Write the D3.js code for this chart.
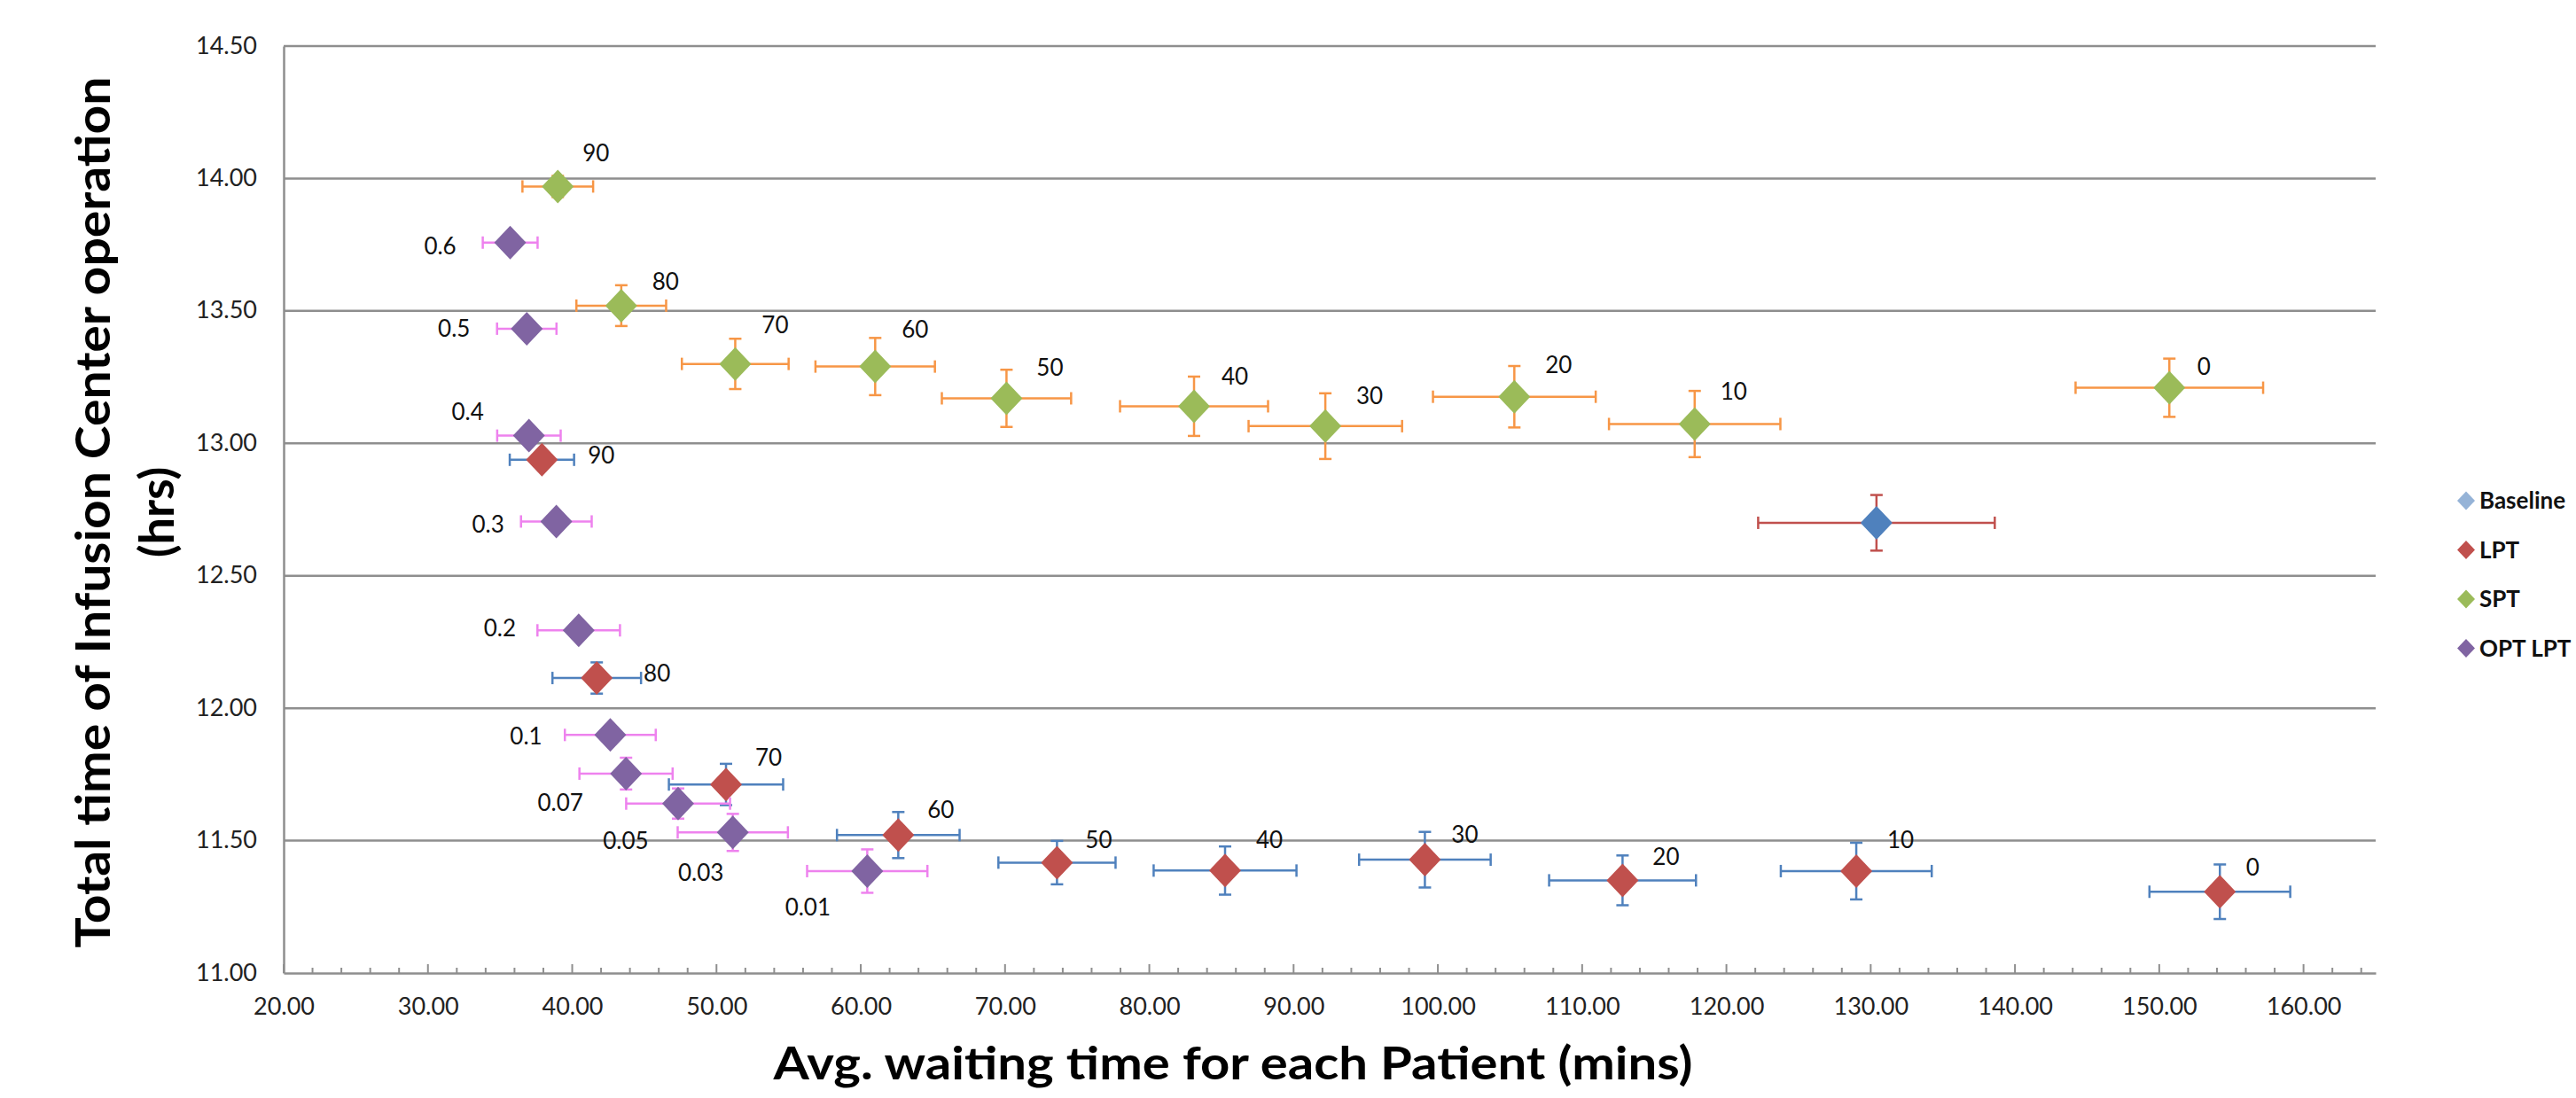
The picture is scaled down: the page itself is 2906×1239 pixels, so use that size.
<!DOCTYPE html>
<html>
<head>
<meta charset="utf-8">
<script src="https://cdn.jsdelivr.net/npm/d3@7"></script>
<style>
  body { margin: 0; background: #fff; }
  text { font-family: Lato, "Open Sans", sans-serif; }
</style>
</head>
<body>
<div id="chart"></div>
<script>
// values
let seriesNames = ['Baseline', 'LPT', 'SPT', 'OPT LPT'];

let baseX = [130.4];
let baseY = [12.70];
let baseXErr = [8.2];
let baseYErr = [0.105];

let lptLabels = ['90', '80', '70', '60', '50', '40', '30', '20', '10', '0'];
let lptX = [37.9, 41.7, 50.66, 62.6, 73.6, 85.25, 99.1, 112.8, 129.0, 154.2];
let lptY = [12.938, 12.114, 11.712, 11.521, 11.417, 11.387, 11.428, 11.350, 11.385, 11.307];
let lptXErr = [2.23, 3.07, 3.96, 4.25, 4.06, 4.95, 4.56, 5.09, 5.23, 4.88];
let lptYErr = [0.03, 0.059, 0.078, 0.087, 0.082, 0.091, 0.105, 0.094, 0.107, 0.103];

let sptLabels = ['90', '80', '70', '60', '50', '40', '30', '20', '10', '0'];
let sptX = [39.0, 43.4, 51.3, 61.0, 70.1, 83.1, 92.2, 105.3, 117.8, 150.7];
let sptY = [13.97, 13.52, 13.30, 13.29, 13.17, 13.14, 13.065, 13.176, 13.073, 13.21];
let sptXErr = [2.45, 3.11, 3.70, 4.14, 4.48, 5.13, 5.32, 5.64, 5.94, 6.5];
let sptYErr = [0.04, 0.077, 0.095, 0.108, 0.108, 0.112, 0.124, 0.116, 0.125, 0.11];

let optLabels = ['0.6', '0.5', '0.4', '0.3', '0.2', '0.1', '0.07', '0.05', '0.03', '0.01'];
let optX = [35.7, 36.85, 37.0, 38.9, 40.45, 42.64, 43.73, 47.34, 51.13, 60.45];
let optY = [13.758, 13.433, 13.029, 12.705, 12.294, 11.899, 11.753, 11.640, 11.531, 11.385];
let optXErr = [1.9, 2.06, 2.2, 2.45, 2.86, 3.15, 3.23, 3.6, 3.82, 4.17];
let optYErr = [0.02, 0.02, 0.02, 0.02, 0.02, 0.03, 0.06, 0.057, 0.07, 0.082];

let xTicks = d3.range(20, 161, 10);
let yTicks = [11, 11.5, 12, 12.5, 13, 13.5, 14, 14.5];

// where the data labels sit next to their marker (px)
let lptNudge = [[67, -5], [68, -5], [48, -30], [48, -28], [47, -25], [50, -34], [45, -28], [49, -27], [50, -35], [37, -27]];
let sptNudge = [[43, -37], [50, -27], [45, -44], [45, -42], [49, -35], [46, -34], [50, -34], [50, -36], [44, -37], [39, -24]];
let optNudge = [[-79, 4], [-82, 0], [-69, -27], [-77, 3], [-89, -2], [-95, 2], [-74, 33], [-59, 42], [-36, 46], [-67, 41]];

let width = 2906, height = 1239;
let margin = {top: 52, right: 226, bottom: 141, left: 320};

function rows(xs, ys, xe, ye, labels, nudge) {
  return xs.map(function(x, i) {
    return {x: x, y: ys[i], xe: xe[i], ye: ye[i],
            label: labels ? labels[i] : null, nudge: nudge ? nudge[i] : null};
  });
}

let series = [
  {name: 'Baseline', fill: '#4F81BD', err: '#C0504D', legend: '#95B3D7', data: rows(baseX, baseY, baseXErr, baseYErr)},
  {name: 'LPT', fill: '#C0504D', err: '#4F81BD', legend: '#C0504D', data: rows(lptX, lptY, lptXErr, lptYErr, lptLabels, lptNudge)},
  {name: 'SPT', fill: '#9BBB59', err: '#F79646', legend: '#9BBB59', data: rows(sptX, sptY, sptXErr, sptYErr, sptLabels, sptNudge)},
  {name: 'OPT LPT', fill: '#8064A2', err: '#EE82EE', legend: '#8064A2', data: rows(optX, optY, optXErr, optYErr, optLabels, optNudge)}
];

let svg = d3.select('#chart').append('svg')
  .attr('width', width)
  .attr('height', height)
  .style('background-color', '#fff');

let xScale = d3.scaleLinear().domain([20, 165]).range([margin.left, width - margin.right]);
let yScale = d3.scaleLinear().domain([11, 14.5]).range([height - margin.bottom, margin.top]);

// gridlines
svg.append('g')
  .selectAll('line')
  .data(yTicks.slice(1))
  .enter()
  .append('line')
  .attr('x1', xScale(20)).attr('x2', xScale(165))
  .attr('y1', d => yScale(d)).attr('y2', d => yScale(d))
  .attr('stroke', '#8e8e8e')
  .attr('stroke-width', 2.5);

// y axis
let yAxis = svg.append('g')
  .attr('transform', `translate(${margin.left},0)`)
  .call(d3.axisLeft(yScale).tickValues(yTicks).tickFormat(d3.format('.2f')).tickSize(0).tickPadding(30));
yAxis.select('.domain').attr('stroke', '#8e8e8e').attr('stroke-width', 2.5);
yAxis.selectAll('text').style('font-size', '27px').attr('fill', '#222').attr('dy', '0.3em');

// x axis, ticks point up into the plot
let xMinor = d3.range(20, 165, 2);
svg.append('g')
  .selectAll('line')
  .data(xMinor)
  .enter()
  .append('line')
  .attr('x1', d => xScale(d)).attr('x2', d => xScale(d))
  .attr('y1', yScale(11))
  .attr('y2', d => yScale(11) - (d % 10 === 0 ? 10 : 6))
  .attr('stroke', '#8e8e8e')
  .attr('stroke-width', 2);

let xAxis = svg.append('g')
  .attr('transform', `translate(0,${height - margin.bottom})`)
  .call(d3.axisBottom(xScale).tickValues(xTicks).tickFormat(d3.format('.2f')).tickSize(0).tickPadding(28));
xAxis.select('.domain').attr('stroke', '#8e8e8e').attr('stroke-width', 2.5);
xAxis.selectAll('text').style('font-size', '27px').attr('fill', '#222');

// error bars then diamonds, one series at a time
let capHalf = 7;
function diamond(d) {
  let cx = xScale(d.x), cy = yScale(d.y);
  return `M${cx},${cy - 19}L${cx + 18},${cy}L${cx},${cy + 19}L${cx - 18},${cy}Z`;
}

series.forEach(function(s) {
  let g = svg.append('g');
  let eb = g.selectAll('.eb').data(s.data).enter().append('g')
    .attr('stroke', s.err).attr('stroke-width', 2.5).attr('fill', 'none');
  // horizontal
  eb.append('line')
    .attr('x1', d => xScale(d.x - d.xe)).attr('x2', d => xScale(d.x + d.xe))
    .attr('y1', d => yScale(d.y)).attr('y2', d => yScale(d.y));
  eb.append('line')
    .attr('x1', d => xScale(d.x - d.xe)).attr('x2', d => xScale(d.x - d.xe))
    .attr('y1', d => yScale(d.y) - capHalf).attr('y2', d => yScale(d.y) + capHalf);
  eb.append('line')
    .attr('x1', d => xScale(d.x + d.xe)).attr('x2', d => xScale(d.x + d.xe))
    .attr('y1', d => yScale(d.y) - capHalf).attr('y2', d => yScale(d.y) + capHalf);
  // vertical
  eb.append('line')
    .attr('x1', d => xScale(d.x)).attr('x2', d => xScale(d.x))
    .attr('y1', d => yScale(d.y - d.ye)).attr('y2', d => yScale(d.y + d.ye));
  eb.append('line')
    .attr('x1', d => xScale(d.x) - capHalf).attr('x2', d => xScale(d.x) + capHalf)
    .attr('y1', d => yScale(d.y + d.ye)).attr('y2', d => yScale(d.y + d.ye));
  eb.append('line')
    .attr('x1', d => xScale(d.x) - capHalf).attr('x2', d => xScale(d.x) + capHalf)
    .attr('y1', d => yScale(d.y - d.ye)).attr('y2', d => yScale(d.y - d.ye));

  g.selectAll('.pt').data(s.data).enter().append('path')
    .attr('d', diamond)
    .attr('fill', s.fill);
});

// data labels
series.forEach(function(s) {
  svg.append('g')
    .selectAll('text')
    .data(s.data.filter(d => d.label !== null))
    .enter()
    .append('text')
    .attr('x', d => xScale(d.x) + d.nudge[0])
    .attr('y', d => yScale(d.y) + d.nudge[1])
    .attr('text-anchor', 'middle')
    .attr('dy', '0.35em')
    .style('font-size', '26px')
    .attr('fill', '#111')
    .text(d => d.label);
});

// axis titles
svg.append('text')
  .attr('x', 1391)
  .attr('y', 1218)
  .attr('text-anchor', 'middle')
  .style('font-size', '52px')
  .style('font-weight', 'bold')
  .attr('textLength', 1037)
  .attr('lengthAdjust', 'spacingAndGlyphs')
  .text('Avg. waiting time for each Patient (mins)');

let yTitle = svg.append('g').attr('transform', 'translate(0,578) rotate(-90)');
yTitle.append('text')
  .attr('x', 0).attr('y', 124)
  .attr('text-anchor', 'middle')
  .style('font-size', '54px')
  .style('font-weight', 'bold')
  .attr('textLength', 983)
  .attr('lengthAdjust', 'spacingAndGlyphs')
  .text('Total time of Infusion Center operation');
yTitle.append('text')
  .attr('x', 0).attr('y', 196)
  .attr('text-anchor', 'middle')
  .style('font-size', '54px')
  .style('font-weight', 'bold')
  .text('(hrs)');

// legend
let legend = svg.append('g').attr('transform', 'translate(2782,565)');
let item = legend.selectAll('g')
  .data(series)
  .enter()
  .append('g')
  .attr('transform', (d, i) => `translate(0,${i * 55.5})`);
item.append('path')
  .attr('d', 'M0,-10.5L10,0L0,10.5L-10,0Z')
  .attr('fill', d => d.legend);
item.append('text')
  .attr('x', 15)
  .attr('dy', '0.36em')
  .style('font-size', '26px')
  .style('font-weight', 'bold')
  .attr('fill', '#111')
  .text(d => d.name);
</script>
</body>
</html>
